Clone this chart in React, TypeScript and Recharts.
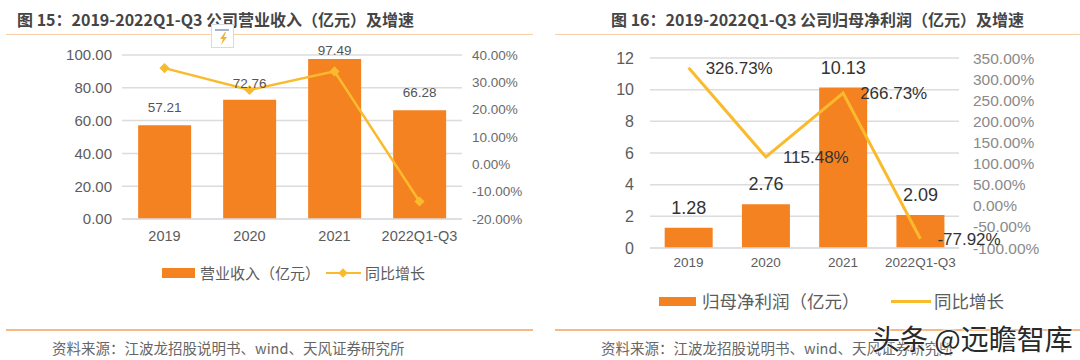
import React from "react";
import {
  Bar,
  CartesianGrid,
  ComposedChart,
  LabelList,
  Line,
  Symbols,
  XAxis,
  YAxis,
} from "recharts";

const categories = ["2019", "2020", "2021", "2022Q1-Q3"];

const revenue = [57.21, 72.76, 97.49, 66.28];
const revenueGrowth = [35.2, 27.2, 34.0, -13.6];
const revenueTicks = [0, 20, 40, 60, 80, 100];
const revenueGrowthTicks = [-20, -10, 0, 10, 20, 30, 40];
// gap between bar top and label, the 97.49 one is squeezed under the plot top
const revenueLabelGaps = [13, 12, 4, 13];

const profit = [1.28, 2.76, 10.13, 2.09];
const profitGrowth = [326.73, 115.48, 266.73, -77.92];
const profitTicks = [0, 2, 4, 6, 8, 10, 12];
const profitGrowthTicks = [-100, -50, 0, 50, 100, 150, 200, 250, 300, 350];

const ORANGE = "#f58220";
const YELLOW = "#f9bb2d";
const LATIN = '"Liberation Sans", "Noto Sans CJK SC", sans-serif';
const CJK = '"Noto Sans CJK SC", "Liberation Sans", sans-serif';

const revenueData = categories.map((name, i) => ({
  name,
  bar: revenue[i],
  growth: revenueGrowth[i],
}));
const profitData = categories.map((name, i) => ({
  name,
  bar: profit[i],
  growth: profitGrowth[i],
}));

const pct = (v: number) => v.toFixed(2) + "%";

function Diamond(props: { cx: number; cy: number; size: number }) {
  return (
    <g transform={`rotate(45 ${props.cx} ${props.cy})`}>
      <Symbols type="square" size={props.size} cx={props.cx} cy={props.cy} fill={YELLOW} stroke="none" />
    </g>
  );
}

function RevenueChart() {
  return (
    <ComposedChart
      width={540}
      height={360}
      data={revenueData}
      margin={{ top: 55, right: 0, bottom: 111, left: 0 }}
      barCategoryGap="19%"
      style={{ position: "absolute", left: 0, top: 0 }}
    >
      <CartesianGrid yAxisId="left" vertical={false} stroke="#dcdcdc" strokeWidth={1.5} />
      <XAxis
        dataKey="name"
        height={30}
        axisLine={{ stroke: "#d9dde3", strokeWidth: 1.5 }}
        tickLine={false}
        tickSize={0}
        tickMargin={12}
        interval={0}
        tick={{ fontSize: 14.5, fill: "#5c5c5c", fontFamily: LATIN }}
      />
      <YAxis
        yAxisId="left"
        width={122}
        domain={[0, 100]}
        ticks={revenueTicks}
        interval={0}
        axisLine={false}
        tickLine={false}
        tickSize={0}
        tickMargin={10}
        tickFormatter={(v: number) => v.toFixed(2)}
        tick={{ fontSize: 15, fill: "#5c5c5c", fontFamily: LATIN }}
      />
      <YAxis
        yAxisId="right"
        orientation="right"
        width={78}
        domain={[-20, 40]}
        ticks={revenueGrowthTicks}
        interval={0}
        axisLine={false}
        tickLine={false}
        tickSize={0}
        tickMargin={10}
        tickFormatter={pct}
        tick={{ fontSize: 13.5, fill: "#6a6a6a", fontFamily: LATIN, textAnchor: "start" }}
      />
      <Bar yAxisId="left" dataKey="bar" fill={ORANGE} isAnimationActive={false}>
        <LabelList
          dataKey="bar"
          content={(p: any) => (
            <text
              x={p.x + p.width / 2}
              y={p.y - revenueLabelGaps[p.index]}
              textAnchor="middle"
              fontSize={13.5}
              fill="#555"
              fontFamily={LATIN}
            >
              {Number(p.value).toFixed(2)}
            </text>
          )}
        />
      </Bar>
      <Line
        yAxisId="right"
        dataKey="growth"
        stroke={YELLOW}
        strokeWidth={2.5}
        isAnimationActive={false}
        dot={(p: any) => <Diamond key={p.index} cx={p.cx} cy={p.cy} size={52} />}
      />
    </ComposedChart>
  );
}

function ProfitChart() {
  return (
    <ComposedChart
      width={540}
      height={360}
      data={profitData}
      margin={{ top: 58, right: 0, bottom: 82, left: 0 }}
      barCategoryGap="19%"
      style={{ position: "absolute", left: 540, top: 0 }}
    >
      <CartesianGrid yAxisId="left" vertical={false} stroke="#dcdcdc" strokeWidth={1.5} />
      <XAxis
        dataKey="name"
        height={30}
        axisLine={{ stroke: "#d9dde3", strokeWidth: 1.5 }}
        tickLine={false}
        tickSize={0}
        tickMargin={9}
        interval={0}
        tick={{ fontSize: 13.5, fill: "#5c5c5c", fontFamily: LATIN }}
      />
      <YAxis
        yAxisId="left"
        width={110}
        domain={[0, 12]}
        ticks={profitTicks}
        interval={0}
        axisLine={false}
        tickLine={false}
        tickSize={0}
        tickMargin={16}
        tick={{ fontSize: 16, fill: "#5c5c5c", fontFamily: LATIN }}
      />
      <YAxis
        yAxisId="right"
        orientation="right"
        width={121}
        domain={[-100, 350]}
        ticks={profitGrowthTicks}
        interval={0}
        axisLine={false}
        tickLine={false}
        tickSize={0}
        tickMargin={14}
        tickFormatter={pct}
        tick={{ fontSize: 15.5, fill: "#8a8a8a", fontFamily: LATIN, textAnchor: "start" }}
      />
      <Bar yAxisId="left" dataKey="bar" fill={ORANGE} isAnimationActive={false}>
        <LabelList
          dataKey="bar"
          position="top"
          offset={14}
          formatter={(v: number) => v.toFixed(2)}
          style={{ fontSize: 18, fill: "#333", fontFamily: LATIN }}
        />
      </Bar>
      <Line
        yAxisId="right"
        dataKey="growth"
        stroke={YELLOW}
        strokeWidth={3}
        dot={false}
        isAnimationActive={false}
      >
        <LabelList
          dataKey="growth"
          position="right"
          offset={17}
          formatter={pct}
          style={{ fontSize: 17, fill: "#333", fontFamily: LATIN }}
        />
      </Line>
    </ComposedChart>
  );
}

function Panel(props: { ruleX: number; title: string; titleX: number; sourceX: number }) {
  const rule = { position: "absolute", left: props.ruleX, width: 527, height: 1.5 } as const;
  return (
    <>
      <div
        style={{
          position: "absolute",
          left: props.titleX,
          top: 7,
          fontFamily: CJK,
          fontWeight: 700,
          fontSize: 16,
          lineHeight: "24px",
          color: "#454545",
          whiteSpace: "pre",
        }}
      >
        {props.title}
      </div>
      <div style={{ ...rule, top: 33.5, background: "#f6cfa8" }} />
      <div style={{ ...rule, top: 329, background: "#f6b985" }} />
      <div
        style={{
          position: "absolute",
          left: props.sourceX,
          top: 337,
          fontFamily: CJK,
          fontSize: 14.5,
          lineHeight: "22px",
          color: "#666",
          whiteSpace: "pre",
        }}
      >
        资料来源：江波龙招股说明书、wind、天风证券研究所
      </div>
    </>
  );
}

function LegendText(props: { x: number; y: number; size: number; text: string }) {
  return (
    <div
      style={{
        position: "absolute",
        left: props.x,
        top: props.y - 12,
        fontFamily: CJK,
        fontSize: props.size,
        lineHeight: "24px",
        color: "#5c5c5c",
        whiteSpace: "pre",
      }}
    >
      {props.text}
    </div>
  );
}

function Swatch(props: { x: number; y: number; w: number; h: number; color: string }) {
  return (
    <div
      style={{
        position: "absolute",
        left: props.x,
        top: props.y - props.h / 2,
        width: props.w,
        height: props.h,
        background: props.color,
      }}
    />
  );
}

export default function App() {
  return (
    <div
      style={{
        position: "absolute",
        left: 0,
        top: 0,
        width: 1080,
        height: 360,
        overflow: "hidden",
        background: "#fff",
      }}
    >
      <RevenueChart />
      <ProfitChart />
      <Panel ruleX={6} titleX={17} sourceX={52} title="图 15：2019-2022Q1-Q3 公司营业收入（亿元）及增速" />
      <Panel ruleX={555} titleX={611} sourceX={601} title="图 16：2019-2022Q1-Q3 公司归母净利润（亿元）及增速" />

      {/* legends */}
      <Swatch x={162} y={273} w={33} h={10} color={ORANGE} />
      <LegendText x={200} y={273} size={15} text="营业收入（亿元）" />
      <Swatch x={326} y={273} w={35} h={2.5} color={YELLOW} />
      <svg style={{ position: "absolute", left: 336, top: 266 }} width={14} height={14}>
        <Diamond cx={7} cy={7} size={44} />
      </svg>
      <LegendText x={365} y={273} size={15} text="同比增长" />

      <Swatch x={659} y={301} w={37} h={9} color={ORANGE} />
      <LegendText x={702} y={301} size={17.5} text="归母净利润（亿元）" />
      <Swatch x={891} y={301} w={40} h={3} color={YELLOW} />
      <LegendText x={934} y={301} size={17.5} text="同比增长" />

      {/* quick-analysis icon left in the screenshot */}
      <svg style={{ position: "absolute", left: 211, top: 24 }} width={23} height={24}>
        <rect x={0.5} y={0.5} width={22} height={23} fill="#fff" stroke="#d5dbe6" />
        <path d="M4 6h14" stroke="#7f9cc0" strokeWidth={1.5} fill="none" />
        <path d="M14 8l-5 7h3l-2 6 6-8h-3l2-5z" fill="#f0b040" />
      </svg>

      {/* watermark */}
      <div
        style={{
          position: "absolute",
          left: 872,
          top: 320,
          fontFamily: CJK,
          fontSize: 28,
          lineHeight: "36px",
          color: "#2a2a2a",
          whiteSpace: "pre",
          textShadow: "0 0 2px #fff, 0 0 2px #fff, 0 0 3px #fff",
        }}
      >
        头条 @远瞻智库
      </div>
    </div>
  );
}
